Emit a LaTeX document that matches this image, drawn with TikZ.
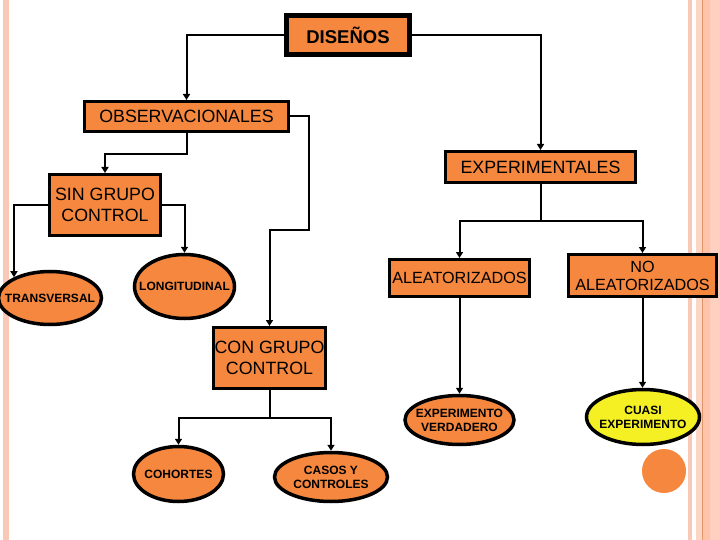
\documentclass[tikz,border=0pt]{standalone}
\usepackage{fontspec}
\setmainfont{Liberation Sans}
\usetikzlibrary{arrows.meta,shapes.geometric}
\definecolor{org}{RGB}{245,135,62}
\definecolor{yel}{RGB}{245,240,35}
\definecolor{stripeA}{RGB}{249,200,182}
\definecolor{stripeB}{RGB}{252,214,196}
\definecolor{stripeC}{RGB}{226,150,110}
\definecolor{stripeD}{RGB}{255,196,168}
\definecolor{stripeE}{RGB}{255,207,192}
\tikzset{
  boxn/.style={draw=black, fill=org, line width=3pt, rectangle, inner sep=0pt, align=center,
    font=\fontsize{17.8}{21}\selectfont},
  elln/.style={draw=black, fill=org, line width=3.5pt, ellipse, inner sep=0pt},
  elltext/.style={font=\fontsize{12}{14}\selectfont\bfseries, align=center, inner sep=0pt},
  conn/.style={line width=2pt, -{Triangle[width=7pt,length=6pt]}},
  plainconn/.style={line width=2pt}
}
\begin{document}
\begin{tikzpicture}[x=1pt,y=-1pt]
\useasboundingbox (0,0) rectangle (720,540);
\fill[white] (0,0) rectangle (720,540);
% decorative stripes
\fill[stripeA] (3,0) rectangle (9,540);
\fill[stripeA] (688,0) rectangle (691.5,540);
\fill[stripeB] (696,0) rectangle (702,540);
\fill[stripeC] (702,0) rectangle (703.2,540);
\fill[stripeD] (703.2,0) rectangle (709.5,540);
\fill[stripeE] (709.5,0) rectangle (720,540);

% nodes
\node[boxn, line width=5pt, minimum width=123pt, minimum height=39pt, font=\fontsize{18.5}{22}\selectfont\bfseries] (dis) at (348,35) {DISEÑOS};
\node[boxn, minimum width=204pt, minimum height=30pt] (obs) at (186.5,116.5) {OBSERVACIONALES};
\node[boxn, minimum width=190pt, minimum height=31pt] (exp) at (540.5,167) {EXPERIMENTALES};
\node[boxn, minimum width=111pt, minimum height=61pt] (sin) at (105,205) {SIN GRUPO\\CONTROL};
\node[elln, minimum width=103pt, minimum height=53pt,
  label={[elltext]center:TRANSVERSAL}] (tra) at (50,298) {};
\node[elln, minimum width=100pt, minimum height=64pt,
  label={[elltext]center:LONGITUDINAL}] (lon) at (184.5,286.5) {};
\node[boxn, minimum width=140pt, minimum height=37pt, font=\fontsize{16.2}{18}\selectfont] (ale) at (459.5,278) {ALEATORIZADOS};
\node[boxn, minimum width=148pt, minimum height=42pt, font=\fontsize{16.2}{18}\selectfont] (noa) at (642.5,275.5) {NO\\ALEATORIZADOS};
\node[boxn, minimum width=112pt, minimum height=61pt] (con) at (269.5,358) {CON GRUPO\\CONTROL};
\node[elln, minimum width=90pt, minimum height=55pt,
  label={[elltext]center:COHORTES}] (coh) at (178.5,474) {};
\node[elln, minimum width=113pt, minimum height=49pt,
  label={[elltext]center:CASOS Y\\CONTROLES}] (cas) at (331,477) {};
\node[elln, minimum width=109pt, minimum height=49pt,
  label={[elltext]center:EXPERIMENTO\\VERDADERO}] (ver) at (459.5,420) {};
\node[elln, fill=yel, minimum width=113pt, minimum height=55pt,
  label={[elltext]center:CUASI\\EXPERIMENTO}] (cua) at (643,417) {};
\node[circle, fill=org, minimum size=44pt, inner sep=0pt] (dot) at (664,471) {};

% connectors
\draw[conn] (dis.west) -| (obs.north);
\draw[conn] (dis.east) -| (exp.north);
\draw[conn] (obs.south) -- ++(0,21) -| (sin.north);
\coordinate (k1) at (309,230);
\draw[conn] (obs.east) -| (k1) -| (con.north);
\draw[conn] (sin.west) -| (tra.150);
\draw[conn] (sin.east) -| (lon.north);
\draw[plainconn] (exp.south) -- ++(0,37) coordinate (k2);
\draw[conn] (k2) -| (ale.north);
\draw[conn] (k2) -| (noa.north);
\draw[conn] (ale.south) -- (ver.north);
\draw[conn] (noa.south) -- (noa.south |- cua.north);
\draw[plainconn] (con.south) -- ++(0,28) coordinate (k3);
\draw[conn] (k3) -| (coh.north);
\draw[conn] (k3) -| (cas.north);
\end{tikzpicture}
\end{document}
